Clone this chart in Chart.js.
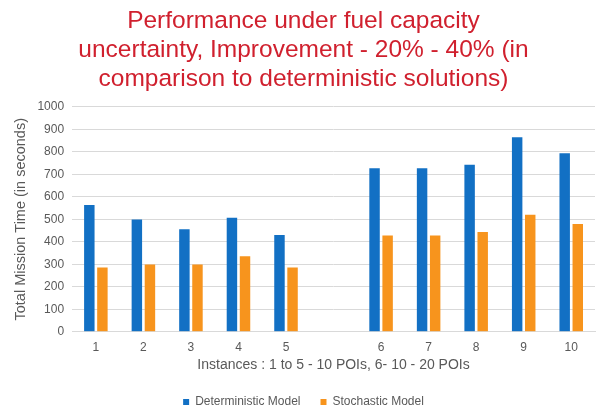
<!DOCTYPE html>
<html>
<head>
<meta charset="utf-8">
<script src="https://cdn.jsdelivr.net/npm/chart.js@4"></script>
<style>
  html, body { margin: 0; padding: 0; background: #fff; }
  #wrap { width: 599px; height: 411px; }
</style>
</head>
<body>
<div id="wrap"><canvas id="chartFuel"></canvas></div>
<script>
// --- DATA ---
const instances = ['1', '2', '3', '4', '5', '', '6', '7', '8', '9', '10'];
const deterministicTimes = [563, 499, 456, 507, 430, null, 727, 727, 742, 864, 793];
const stochasticTimes = [286, 299, 299, 336, 286, null, 428, 428, 443, 520, 479];
const titleLines = [
    'Performance under fuel capacity',
    'uncertainty, Improvement - 20% - 40% (in',
    'comparison to deterministic solutions)'
];

Chart.defaults.font.family = "'Liberation Sans', Arial, sans-serif";
Chart.defaults.color = '#595959';
Chart.defaults.responsive = true;
Chart.defaults.maintainAspectRatio = false;
Chart.defaults.animation = false;

const ctx = document.getElementById('chartFuel').getContext('2d');
new Chart(ctx, {
    type: 'bar',
    data: {
        labels: instances,
        datasets: [
            {
                label: 'Deterministic Model',
                data: deterministicTimes,
                backgroundColor: '#1270C4'
            },
            {
                label: 'Stochastic Model',
                data: stochasticTimes,
                backgroundColor: '#F7941D'
            }
        ]
    },
    options: {
        layout: { padding: { left: 12, right: 4, top: 4, bottom: -7 } },
        categoryPercentage: 0.55,
        barPercentage: 0.8,
        plugins: {
            title: {
                display: true,
                text: titleLines,
                color: '#D0202E',
                font: { size: 24.5, weight: 'normal', lineHeight: 1.18 },
                padding: { top: 3, bottom: 13 }
            },
            legend: {
                position: 'bottom',
                labels: {
                    boxWidth: 6,
                    boxHeight: 6,
                    padding: 20,
                    font: { size: 12 }
                }
            },
            tooltip: { enabled: false }
        },
        scales: {
            x: {
                grid: { display: false },
                border: { color: '#D9D9D9' },
                ticks: { font: { size: 12 }, padding: 1 },
                title: {
                    display: true,
                    text: 'Instances : 1 to 5 - 10 POIs, 6- 10 - 20 POIs',
                    font: { size: 14 },
                    padding: { top: 1, bottom: 2 }
                }
            },
            y: {
                min: 0,
                max: 1000,
                ticks: {
                    stepSize: 100,
                    font: { size: 12 },
                    padding: 8,
                    callback: function(value) { return String(value); }
                },
                grid: { color: '#D9D9D9', drawTicks: false },
                border: { display: false },
                title: {
                    display: true,
                    text: 'Total Mission Time (in seconds)',
                    font: { size: 14.5 },
                    padding: { top: 0, bottom: 0 }
                }
            }
        }
    }
});
</script>
</body>
</html>
